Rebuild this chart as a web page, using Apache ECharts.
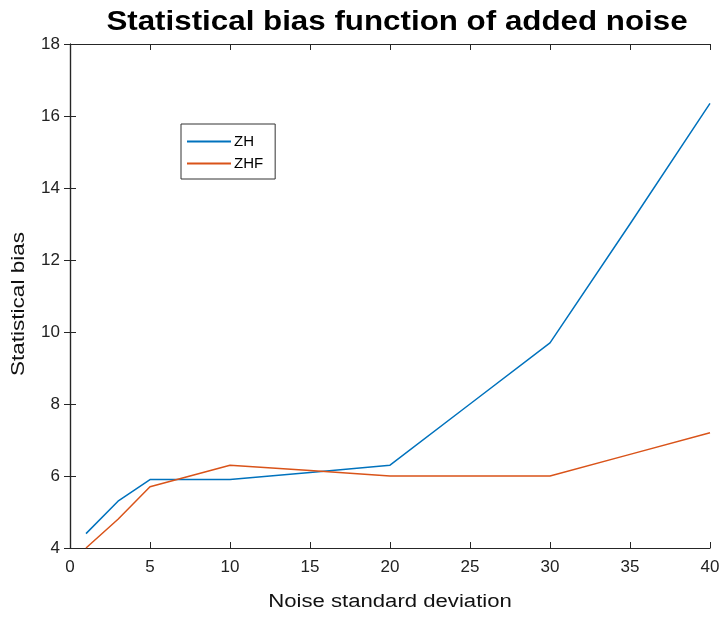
<!DOCTYPE html>
<html>
<head>
<meta charset="utf-8">
<script src="https://cdn.jsdelivr.net/npm/echarts@6/dist/echarts.min.js"></script>
<style>
html,body{margin:0;padding:0;background:#fff;}
#main{width:724px;height:617px;}
</style>
</head>
<body>
<div id="main"></div>
<script type="text/javascript">
	// 噪声标准差
	var noiseStd = [1, 3, 5, 10, 15, 20, 25, 30, 35, 40];
	// 统计偏差
	var zhValues = [4.4, 5.3, 5.9, 5.9, 6.1, 6.3, 8.0, 9.7, 13.0, 16.35];
	var zhfValues = [4.0, 4.8, 5.7, 6.3, 6.15, 6.0, 6.0, 6.0, 6.6, 7.2];
	var xTicks = [0, 5, 10, 15, 20, 25, 30, 35, 40];
	var yTicks = [4, 6, 8, 10, 12, 14, 16, 18];

	var font = '"Liberation Sans", Arial, Helvetica, sans-serif';
	var axisColor = '#262626';

	function pairs(xs, ys){
		return xs.map(function(x, i){ return [x, ys[i]]; });
	}

	var myChart = echarts.init(document.getElementById('main'));

	var option = {
		backgroundColor: '#fff',
		animation: false,
		// 标题和坐标轴名称：原图字体偏宽，用 scaleX 拉宽
		graphic: [
			{
				type: 'text',
				x: 397, y: 23,
				scaleX: 1.16,
				style: {
					text: 'Statistical bias function of added noise',
					font: 'bold 27px ' + font,
					fill: '#000',
					textAlign: 'center',
					textVerticalAlign: 'middle'
				}
			},
			{
				type: 'text',
				x: 390, y: 602,
				scaleX: 1.23,
				style: {
					text: 'Noise standard deviation',
					font: '18px ' + font,
					fill: '#111',
					textAlign: 'center',
					textVerticalAlign: 'middle'
				}
			},
			{
				type: 'text',
				x: 19, y: 304,
				rotation: Math.PI / 2,
				scaleX: 1.25,
				style: {
					text: 'Statistical bias',
					font: '18px ' + font,
					fill: '#111',
					textAlign: 'center',
					textVerticalAlign: 'middle'
				}
			}
		],
		legend: {
			orient: 'vertical',
			left: 181,
			top: 124,
			padding: [10, 12, 8, 6],
			itemGap: 7,
			itemWidth: 44,
			itemHeight: 2,
			icon: 'rect',
			borderColor: '#333',
			borderWidth: 1,
			backgroundColor: '#fff',
			textStyle: {fontFamily: font, fontSize: 15, color: '#000', padding: [0, 0, 0, -2]},
			data: ['ZH', 'ZHF']
		},
		grid: {left: 70, right: 14, top: 44, bottom: 69},
		xAxis: [
			{
				type: 'value',
				min: xTicks[0],
				max: xTicks[xTicks.length - 1],
				interval: 5,
				axisLine: {lineStyle: {color: axisColor, width: 1.2}},
				axisTick: {inside: true, length: 6, lineStyle: {color: axisColor}},
				axisLabel: {fontFamily: font, fontSize: 17, color: '#222', margin: 11},
				splitLine: {show: false}
			},
			{
				type: 'value',
				position: 'top',
				min: xTicks[0],
				max: xTicks[xTicks.length - 1],
				interval: 5,
				axisLine: {lineStyle: {color: axisColor, width: 1.2}},
				axisTick: {inside: true, length: 6, lineStyle: {color: axisColor}},
				axisLabel: {show: false},
				splitLine: {show: false}
			}
		],
		yAxis: [
			{
				type: 'value',
				min: yTicks[0],
				max: yTicks[yTicks.length - 1],
				interval: 2,
				axisLine: {show: true, lineStyle: {color: axisColor, width: 1.2}},
				axisTick: {show: true, inside: true, length: 6, lineStyle: {color: axisColor}},
				axisLabel: {fontFamily: font, fontSize: 17, color: '#222', margin: 10},
				splitLine: {show: false}
			},
			{
				type: 'value',
				position: 'right',
				min: yTicks[0],
				max: yTicks[yTicks.length - 1],
				interval: 2,
				axisLine: {show: true, lineStyle: {color: axisColor, width: 1.2}},
				axisTick: {show: true, inside: true, length: 6, lineStyle: {color: axisColor}},
				axisLabel: {show: false},
				splitLine: {show: false}
			}
		],
		series: [
			{
				name: 'ZH',
				type: 'line',
				xAxisIndex: 0,
				yAxisIndex: 0,
				showSymbol: false,
				color: '#0072BD',
				lineStyle: {color: '#0072BD', width: 1.5},
				data: pairs(noiseStd, zhValues)
			},
			{
				name: 'ZHF',
				type: 'line',
				xAxisIndex: 0,
				yAxisIndex: 0,
				showSymbol: false,
				color: '#D95319',
				lineStyle: {color: '#D95319', width: 1.5},
				data: pairs(noiseStd, zhfValues)
			}
		]
	};

	myChart.setOption(option);
</script>
</body>
</html>
